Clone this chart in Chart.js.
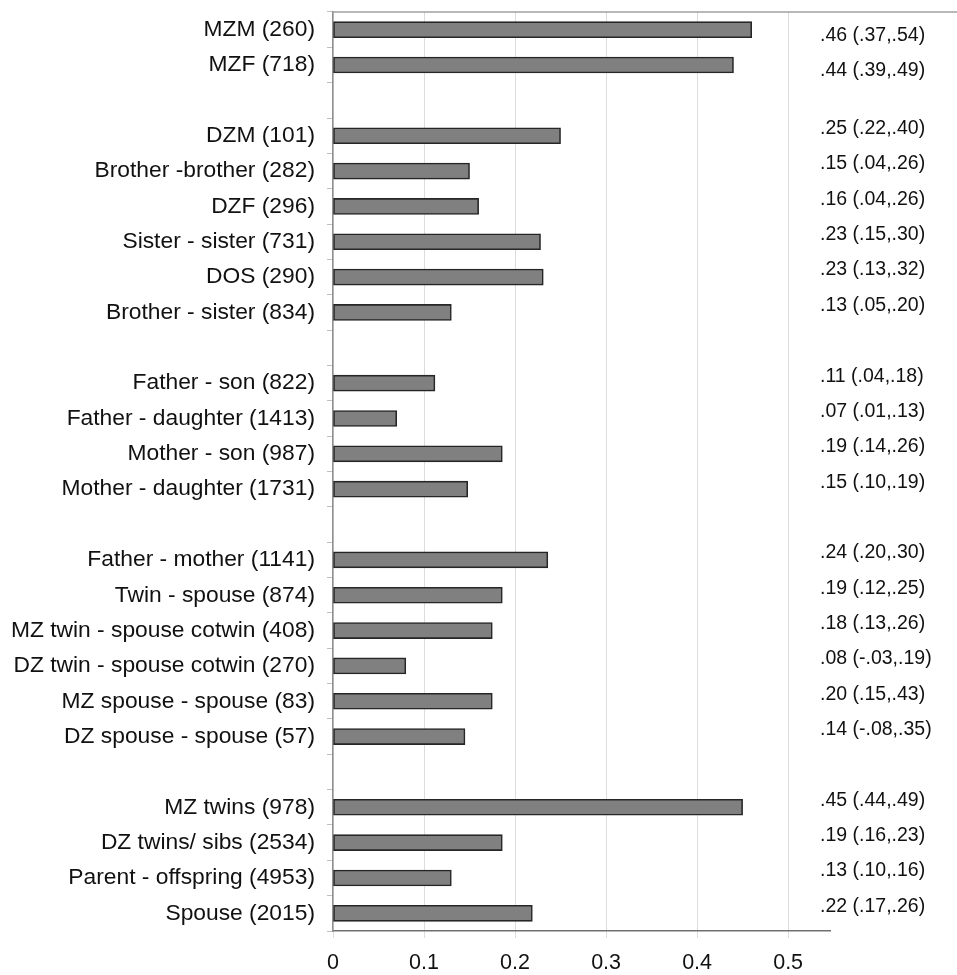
<!DOCTYPE html>
<html lang="en">
<head>
  <meta charset="UTF-8">
  <title>Correlations by relationship</title>
  <script src="https://cdn.jsdelivr.net/npm/chart.js"></script>
  <style>
    html, body { margin: 0; padding: 0; background: #fff; }
    #wrap { width: 957px; height: 975px; }
  </style>
</head>
<body>
  <div id="wrap"><canvas id="corrChart" width="957" height="975"></canvas></div>

  <script>
    // '' rows are the blank spacers between groups
    const categories = [
      'MZM (260)', 'MZF (718)', '',
      'DZM (101)', 'Brother -brother (282)', 'DZF (296)', 'Sister - sister (731)', 'DOS (290)', 'Brother - sister (834)', '',
      'Father - son (822)', 'Father - daughter (1413)', 'Mother - son (987)', 'Mother - daughter (1731)', '',
      'Father - mother (1141)', 'Twin - spouse (874)', 'MZ twin - spouse cotwin (408)', 'DZ twin - spouse cotwin (270)',
      'MZ spouse - spouse (83)', 'DZ spouse - spouse (57)', '',
      'MZ twins (978)', 'DZ twins/ sibs (2534)', 'Parent - offspring (4953)', 'Spouse (2015)'
    ];
    const values = [
      0.46, 0.44, null,
      0.25, 0.15, 0.16, 0.228, 0.231, 0.13, null,
      0.112, 0.07, 0.186, 0.148, null,
      0.236, 0.186, 0.175, 0.08, 0.175, 0.145, null,
      0.45, 0.186, 0.13, 0.219
    ];
    const ciLabels = [
      '.46 (.37,.54)', '.44 (.39,.49)', '',
      '.25 (.22,.40)', '.15 (.04,.26)', '.16 (.04,.26)', '.23 (.15,.30)', '.23 (.13,.32)', '.13 (.05,.20)', '',
      '.11 (.04,.18)', '.07 (.01,.13)', '.19 (.14,.26)', '.15 (.10,.19)', '',
      '.24 (.20,.30)', '.19 (.12,.25)', '.18 (.13,.26)', '.08 (-.03,.19)', '.20 (.15,.43)', '.14 (-.08,.35)', '',
      '.45 (.44,.49)', '.19 (.16,.23)', '.13 (.10,.16)', '.22 (.17,.26)'
    ];
    const xTicks = [0, 0.1, 0.2, 0.3, 0.4, 0.5];

    const FONT = "'Liberation Sans', Arial, sans-serif";

    // CI text column on the right, plus the top frame line
    const sidePlugin = {
      id: 'side',
      afterDraw(chart) {
        const c = chart.ctx;
        const area = chart.chartArea;
        const y = chart.scales.y;
        c.save();
        c.strokeStyle = '#a0a0a0';
        c.lineWidth = 1.5;
        c.beginPath();
        c.moveTo(area.left, area.top);
        c.lineTo(chart.width, area.top);
        c.stroke();

        c.fillStyle = '#111';
        c.font = '19.5px ' + FONT;
        c.textAlign = 'left';
        c.textBaseline = 'middle';
        let group = 0;
        ciLabels.forEach((t, i) => {
          if (t === '') { group++; return; }
          const off = group === 0 ? 6 : -7;
          c.fillText(t, area.right - 10, y.getPixelForValue(i) + off);
        });
        c.restore();
      }
    };

    new Chart(document.getElementById('corrChart'), {
      type: 'bar',
      data: {
        labels: categories,
        datasets: [{
          data: values,
          backgroundColor: '#808080',
          borderColor: '#262626',
          borderWidth: 1.6,
          barThickness: 16,
          borderSkipped: false
        }]
      },
      options: {
        indexAxis: 'y',
        responsive: false,
        animation: false,
        layout: { padding: { top: 12, right: 127, left: 0, bottom: 0 } },
        plugins: { legend: { display: false }, tooltip: { enabled: false } },
        scales: {
          x: {
            min: 0,
            max: 0.546,
            afterBuildTicks(scale) { scale.ticks = xTicks.map(v => ({ value: v })); },
            afterFit(scale) { scale.height = 44; scale.paddingLeft = 0; scale.paddingRight = 0; },
            grid: { color: '#dcdcdc', tickColor: '#dcdcdc', tickLength: 7, lineWidth: 1 },
            border: { color: '#707070', width: 1.5 },
            ticks: {
              color: '#111',
              font: { family: FONT, size: 21.5 },
              padding: 12,
              callback: v => String(+v.toFixed(1))
            }
          },
          y: {
            afterFit(scale) { scale.width = 333; scale.paddingTop = 0; scale.paddingBottom = 0; },
            grid: { offset: true, drawOnChartArea: false, drawTicks: true, tickLength: 6, color: '#c0c0c0' },
            border: { color: '#909090', width: 1.5 },
            ticks: {
              color: '#111',
              font: { family: FONT, size: 22.8 },
              padding: 12,
              autoSkip: false
            }
          }
        }
      },
      plugins: [sidePlugin]
    });
  </script>
</body>
</html>
